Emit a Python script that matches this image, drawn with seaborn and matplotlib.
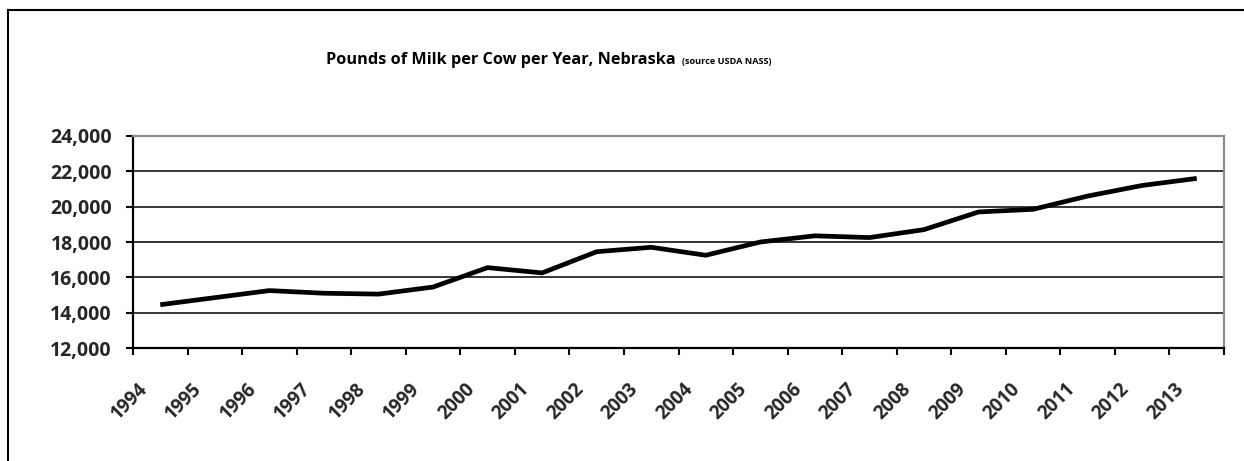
import numpy as np
import pandas as pd
import matplotlib
matplotlib.use("Agg")
import matplotlib.pyplot as plt
import matplotlib.transforms as mtransforms
from matplotlib.lines import Line2D
from matplotlib.ticker import FuncFormatter
import seaborn as sns

# ---- data ----
years = ["1994", "1995", "1996", "1997", "1998", "1999", "2000", "2001", "2002", "2003",
         "2004", "2005", "2006", "2007", "2008", "2009", "2010", "2011", "2012", "2013"]
milk_per_cow = [14450, 14850, 15250, 15100, 15050, 15450, 16550, 16250, 17450, 17700,
                17250, 18000, 18350, 18250, 18700, 19700, 19850, 20600, 21200, 21600]
y_ticks = [12000, 14000, 16000, 18000, 20000, 22000, 24000]
title_main = "Pounds of Milk per Cow per Year, Nebraska"
title_source = "(source USDA NASS)"

sns.set_style("white")
plt.rcParams["font.family"] = ["Open Sans", "DejaVu Sans"]
plt.rcParams["font.weight"] = "bold"

W, H, DPI = 1244, 461, 100
fig = plt.figure(figsize=(W / DPI, H / DPI), dpi=DPI)
fig.patch.set_facecolor("white")

def fx(px):
    return px / W

def fy(py):
    return 1 - py / H

ax = fig.add_axes([fx(133), fy(348), fx(1224) - fx(133), fy(136) - fy(348)])

df = pd.DataFrame({"year": years, "milk": milk_per_cow})
sns.lineplot(data=df, x="year", y="milk", color="black", linewidth=3.4, ax=ax,
             solid_capstyle="butt", solid_joinstyle="round", zorder=5)

n = len(years)
ax.set_xlim(-0.5, n - 0.5)
ax.set_ylim(y_ticks[0], y_ticks[-1])
ax.set_xlabel("")
ax.set_ylabel("")

# gridlines
ax.set_yticks(y_ticks)
ax.yaxis.set_major_formatter(FuncFormatter(lambda v, p: f"{int(v):,}"))
ax.grid(axis="y", color="black", linewidth=1.1)
ax.grid(axis="x", visible=False)
ax.set_axisbelow(True)

# x ticks: boundaries (major) and labels at centers (minor)
ax.set_xticks(np.arange(-0.5, n, 1.0))
ax.set_xticklabels([])
ax.set_xticks(np.arange(n), minor=True)
ax.set_xticklabels(years, minor=True, rotation=45, ha="right", va="center",
                   rotation_mode="anchor", fontsize=13.5, fontweight="bold")
ax.tick_params(axis="x", which="major", direction="out", length=5.2, width=1.5,
               color="black", bottom=True)
ax.tick_params(axis="x", which="minor", length=0, pad=27.5, bottom=True)
offset = mtransforms.ScaledTranslation(-16 / DPI, 0, fig.dpi_scale_trans)
for lab in ax.get_xticklabels(minor=True):
    lab.set_transform(lab.get_transform() + offset)

ax.tick_params(axis="y", direction="out", length=5.2, width=1.5, color="black",
               labelsize=14, pad=10, left=True)
for lab in ax.get_yticklabels():
    lab.set_fontweight("bold")

for side in ["left", "bottom"]:
    ax.spines[side].set_color("black")
    ax.spines[side].set_linewidth(1.6)
for side in ["top", "right"]:
    ax.spines[side].set_color("#8c8c8c")
    ax.spines[side].set_linewidth(1.6)
    ax.spines[side].set_visible(True)

# title
t_main = fig.text(fx(326), fy(63.5), title_main, fontsize=11.7, fontweight="bold",
                  ha="left", va="baseline", color="black")
fig.canvas.draw()
bb = t_main.get_window_extent()
src_x = bb.x1 / W + fx(6)
fig.text(src_x, fy(64.5), title_source, fontsize=6.6, fontweight="bold",
         ha="left", va="baseline", color="black")

# chart outer border (left and top edges visible)
fig.add_artist(Line2D([fx(8.3), fx(8.3)], [fy(10.3), fy(H + 5)], color="black",
                      linewidth=1.5, transform=fig.transFigure, solid_capstyle="projecting"))
fig.add_artist(Line2D([fx(8.3), fx(W + 5)], [fy(10.3), fy(10.3)], color="black",
                      linewidth=1.5, transform=fig.transFigure, solid_capstyle="projecting"))

fig.savefig("out.png", dpi=DPI, facecolor="white")
